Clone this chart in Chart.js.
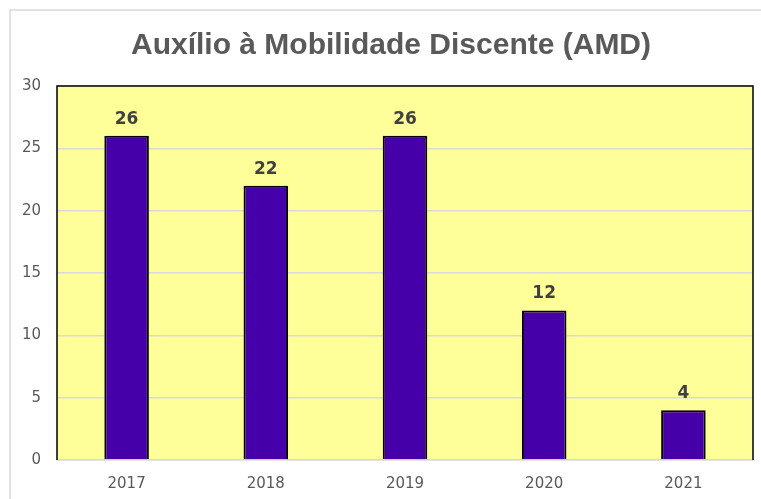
<!DOCTYPE html>
<html>
<head>
<meta charset="utf-8">
<script src="https://cdn.jsdelivr.net/npm/chart.js@4"></script>
<style>
  html, body { margin:0; padding:0; background:#fff; }
  #wrap { width:761px; height:499px; position:relative; }
</style>
</head>
<body>
<div id="wrap"><canvas id="c" width="761" height="499"></canvas></div>
<script>
const chartTitle = "Auxílio à Mobilidade Discente (AMD)";
const categories = ["2017", "2018", "2019", "2020", "2021"];
const values = [26, 22, 26, 12, 4];
const yTicks = [0, 5, 10, 15, 20, 25, 30];

const framePlugin = {
  id: 'frame',
  beforeDraw(chart) {
    const ctx = chart.ctx, a = chart.chartArea;
    ctx.save();
    ctx.fillStyle = '#fff';
    ctx.fillRect(0, 0, chart.width, chart.height);
    ctx.strokeStyle = '#D9D9D9';
    ctx.lineWidth = 1.5;
    ctx.strokeRect(10, 10, chart.width + 20, chart.height + 20);
    ctx.fillStyle = '#FFFF99';
    ctx.fillRect(a.left, a.top, a.right - a.left, a.bottom - a.top);
    ctx.restore();
  },
  afterDraw(chart) {
    const ctx = chart.ctx, a = chart.chartArea;
    ctx.save();
    ctx.strokeStyle = '#000';
    ctx.lineWidth = 1.5;
    ctx.beginPath();
    ctx.moveTo(a.left, a.bottom);
    ctx.lineTo(a.left, a.top);
    ctx.lineTo(a.right, a.top);
    ctx.lineTo(a.right, a.bottom);
    ctx.stroke();
    // title
    ctx.fillStyle = '#595959';
    ctx.font = 'bold 30px "Liberation Sans"';
    ctx.textAlign = 'center';
    ctx.textBaseline = 'middle';
    ctx.fillText(chartTitle, 391, 46);
    ctx.restore();
  },
  afterDatasetsDraw(chart) {
    const ctx = chart.ctx;
    const meta = chart.getDatasetMeta(0);
    ctx.save();
    ctx.fillStyle = '#404040';
    ctx.font = 'bold 17px "DejaVu Sans"';
    ctx.textAlign = 'center';
    ctx.textBaseline = 'bottom';
    meta.data.forEach((el, i) => {
      ctx.fillText(String(values[i]), el.x, el.y - 8);
    });
    ctx.restore();
  }
};

new Chart(document.getElementById('c'), {
  type: 'bar',
  data: {
    labels: categories,
    datasets: [{
      data: values,
      backgroundColor: '#4600AA',
      borderColor: '#000',
      borderWidth: 2,
      barPercentage: 0.64,
      categoryPercentage: 0.5
    }]
  },
  options: {
    responsive: false,
    animation: false,
    devicePixelRatio: 1,
    layout: { padding: { top: 86, right: 8, left: 0, bottom: 0 } },
    plugins: { legend: { display: false }, tooltip: { enabled: false }, title: { display: false } },
    scales: {
      x: {
        afterFit(s) { s.height = 39; },
        grid: { display: false, drawTicks: false },
        border: { display: true, color: '#D9D9D9', width: 1.5 },
        ticks: { color: '#595959', font: { family: '"DejaVu Sans"', size: 15 }, padding: 15 }
      },
      y: {
        min: 0, max: 30,
        afterFit(s) { s.width = 57; },
        afterBuildTicks(s) { s.ticks = yTicks.map(v => ({ value: v })); },
        grid: { color: '#D9D9D9', lineWidth: 1.5, drawTicks: false },
        border: { display: false },
        ticks: { color: '#595959', font: { family: '"DejaVu Sans"', size: 15 }, padding: 16 }
      }
    }
  },
  plugins: [framePlugin]
});
</script>
</body>
</html>
